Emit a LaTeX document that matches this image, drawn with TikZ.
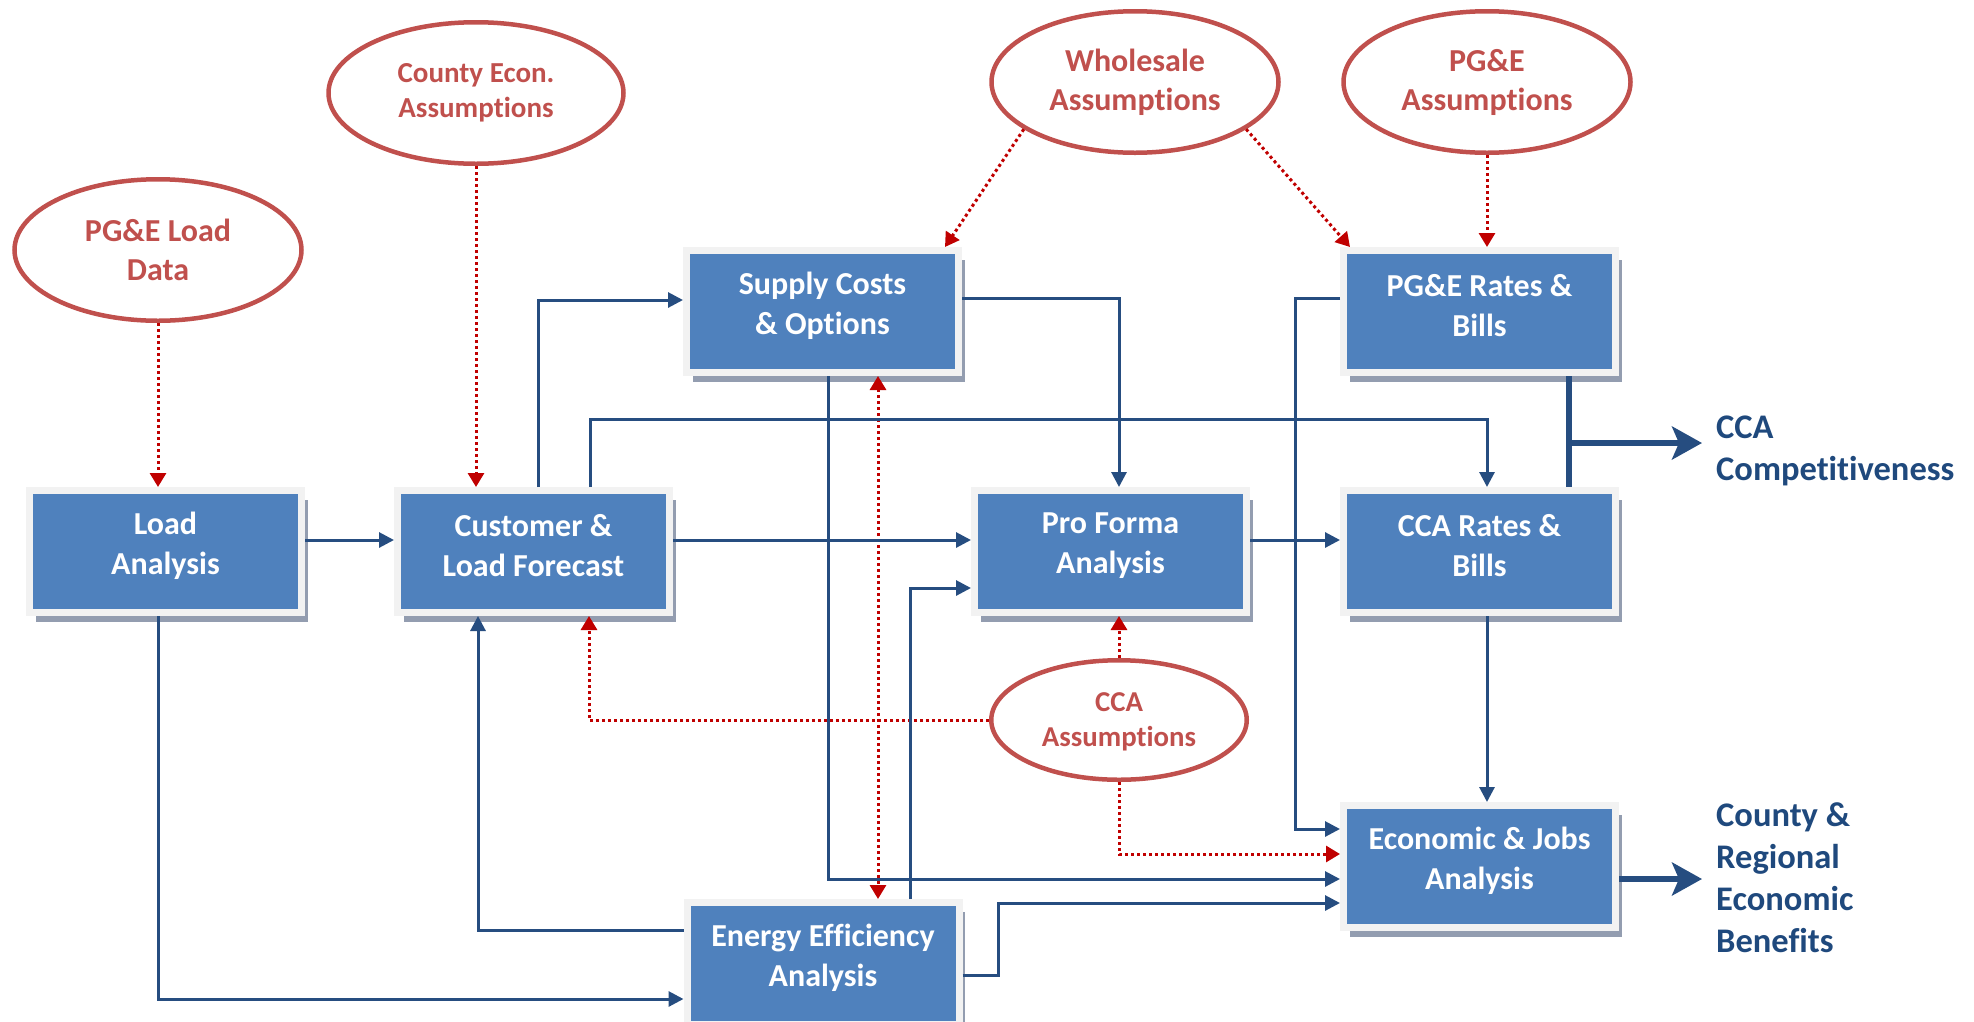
\documentclass[tikz,border=0pt]{standalone}
\usepackage{fontspec}
\setmainfont{Carlito}[Ligatures=NoCommon]
\usetikzlibrary{arrows.meta,shapes.geometric,shadows}
\definecolor{boxblue}{HTML}{4F81BD}
\definecolor{framegray}{HTML}{F2F2F2}
\definecolor{shadowgray}{HTML}{939DB0}
\definecolor{ellred}{HTML}{C0504D}
\definecolor{flowblue}{HTML}{264D80}
\definecolor{dotred}{HTML}{C00000}
\definecolor{navy}{HTML}{1F497D}
\begin{document}
\begin{tikzpicture}[x=1pt,y=-1pt,
  box/.style={rectangle, fill=boxblue, draw=framegray, line width=7pt,
    minimum width=272pt, minimum height=122pt, inner sep=0pt,
    drop shadow={shadow xshift=6pt, shadow yshift=-9pt, fill=shadowgray, opacity=1}},
  boxtxt/.style={inner sep=0pt, align=center, text=white,
    font=\fontsize{32}{40}\selectfont\bfseries},
  ell/.style={ellipse, draw=ellred, line width=4.5pt, inner sep=0pt, align=center,
    text=ellred, minimum width=287pt, minimum height=141.5pt},
  bigtxt/.style={font=\fontsize{32}{39}\selectfont\bfseries},
  smalltxt/.style={font=\fontsize{29}{35}\selectfont\bfseries},
  result/.style={anchor=west, inner xsep=14pt, inner ysep=0pt, align=left,
    text=navy, font=\fontsize{34.5}{42}\selectfont\bfseries},
  flow/.style={draw=flowblue, line width=3pt, -{Triangle[length=15pt,width=15pt]}},
  reddot/.style={draw=dotred, line width=3pt, dash pattern=on 3pt off 3pt,
    -{Triangle[length=14pt,width=16pt]}},
  thickflow/.style={draw=flowblue, line width=5.5pt, -{Stealth[length=30pt,width=33pt,inset=7pt]}}
]
\useasboundingbox (0,0) rectangle (1974,1021);

% ellipses
\node[ell, bigtxt] (pld) at (158,250) {PG\&E Load\\Data};
\node[ell, smalltxt, minimum width=295pt] (ce) at (476,93) {County Econ.\\Assumptions};
\node[ell, bigtxt] (ws) at (1135,82) {Wholesale\\Assumptions};
\node[ell, bigtxt] (pa) at (1487,82) {PG\&E\\Assumptions};
\node[ell, font=\fontsize{28.8}{35}\selectfont\bfseries, minimum width=255.5pt, minimum height=119.5pt] (ca) at (1119,720) {};
\node[inner sep=0pt, align=center, text=ellred, font=\fontsize{28.8}{35}\selectfont\bfseries] (cat) at ([yshift=-2pt]ca.center) {CCA\\Assumptions};

% boxes
\node[box] (la) at (165.5,551.5) {};
\node[box] (cf) at (533.5,551.5) {};
\node[box] (sc) at (822.5,311.5) {};
\node[box] (ee) at (823,963.5) {};
\node[box] (pf) at (1110.5,551.5) {};
\node[box] (pr) at (1479.5,311.5) {};
\node[box] (cr) at (1479.5,551.5) {};
\node[box] (ej) at (1479.5,866.5) {};

% box texts
\node[boxtxt] (lat) at ([yshift=6pt]la.center) {Load\\Analysis};
\node[boxtxt] (cft) at ([yshift=6pt]cf.center) {Customer \&\\Load Forecast};
\node[boxtxt] (sct) at ([yshift=6pt]sc.center) {Supply Costs\\\& Options};
\node[boxtxt] (eet) at ([yshift=6pt]ee.center) {Energy Efficiency\\Analysis};
\node[boxtxt] (pft) at ([yshift=6pt]pf.center) {Pro Forma\\Analysis};
\node[boxtxt] (prt) at ([yshift=6pt]pr.center) {PG\&E Rates \&\\Bills};
\node[boxtxt] (crt) at ([yshift=6pt]cr.center) {CCA Rates \&\\Bills};
\node[boxtxt] (ejt) at ([yshift=6pt]ej.center) {Economic \& Jobs\\Analysis};

% results
\node[result] (cca) at (1702,451) {CCA\\Competitiveness};
\node[result] (crb) at (1702,878) {County \&\\Regional\\Economic\\Benefits};

% red dotted inputs
\draw[reddot] (pld.south) -- (pld.south |- la.north);
\draw[reddot] (ce.south) -- (ce.south |- cf.north);
\draw[reddot] (ws.203) -- (945,0 |- sc.north);
\draw[reddot] (ws.337) -- (1350,0 |- pr.north);
\draw[reddot] (pa.south) -- (pa.south |- pr.north);
\draw[reddot] (ca.north) -- (ca.north |- pf.south);
\draw[reddot] (ca.west) -| (589,0 |- cf.south);
\draw[reddot] (ca.south) |- (ej.west |- 0,854);
\draw[reddot, {Triangle[length=14pt,width=16pt]}-{Triangle[length=14pt,width=16pt]}]
  (878,0 |- sc.south) -- (878,0 |- ee.north);

% blue flows
\draw[flow] (la.east |- 0,540) -- (cf.west |- 0,540);
\draw[flow] (538,0 |- cf.north) |- (sc.west |- 0,300);
\draw[flow] (590,0 |- cf.north) |- (1487,419) -- (1487,0 |- cr.north);
\draw[flow] (cf.east |- 0,540) -- (pf.west |- 0,540);
\draw[flow] (sc.east |- 0,298) -| (1119,0 |- pf.north);
\draw[flow] (828,0 |- sc.south) |- (ej.west |- 0,879);
\draw[flow] (pr.west |- 0,298) -| (1295,829) -- (ej.west |- 0,829);
\draw[flow] (pf.east |- 0,540) -- (cr.west |- 0,540);
\draw[flow] (1487,0 |- cr.south) -- (1487,0 |- ej.north);
\draw[flow] (ee.west |- 0,930) -| (478,0 |- cf.south);
\draw[flow] (158,0 |- la.south) |- (ee.west |- 0,999);
\draw[flow] (910,0 |- ee.north) |- (pf.west |- 0,588);
\draw[flow] (ee.east |- 0,975) -| (998,903) -- (ej.west |- 0,903);

% outputs
\draw[draw=flowblue, line width=5.5pt] (1569,0 |- pr.south) -- (1569,0 |- cr.north);
\draw[thickflow] (1569,443) -- (cca.west |- 0,443);
\draw[thickflow] (ej.east |- 0,879) -- (crb.west |- 0,879);
\end{tikzpicture}
\end{document}
